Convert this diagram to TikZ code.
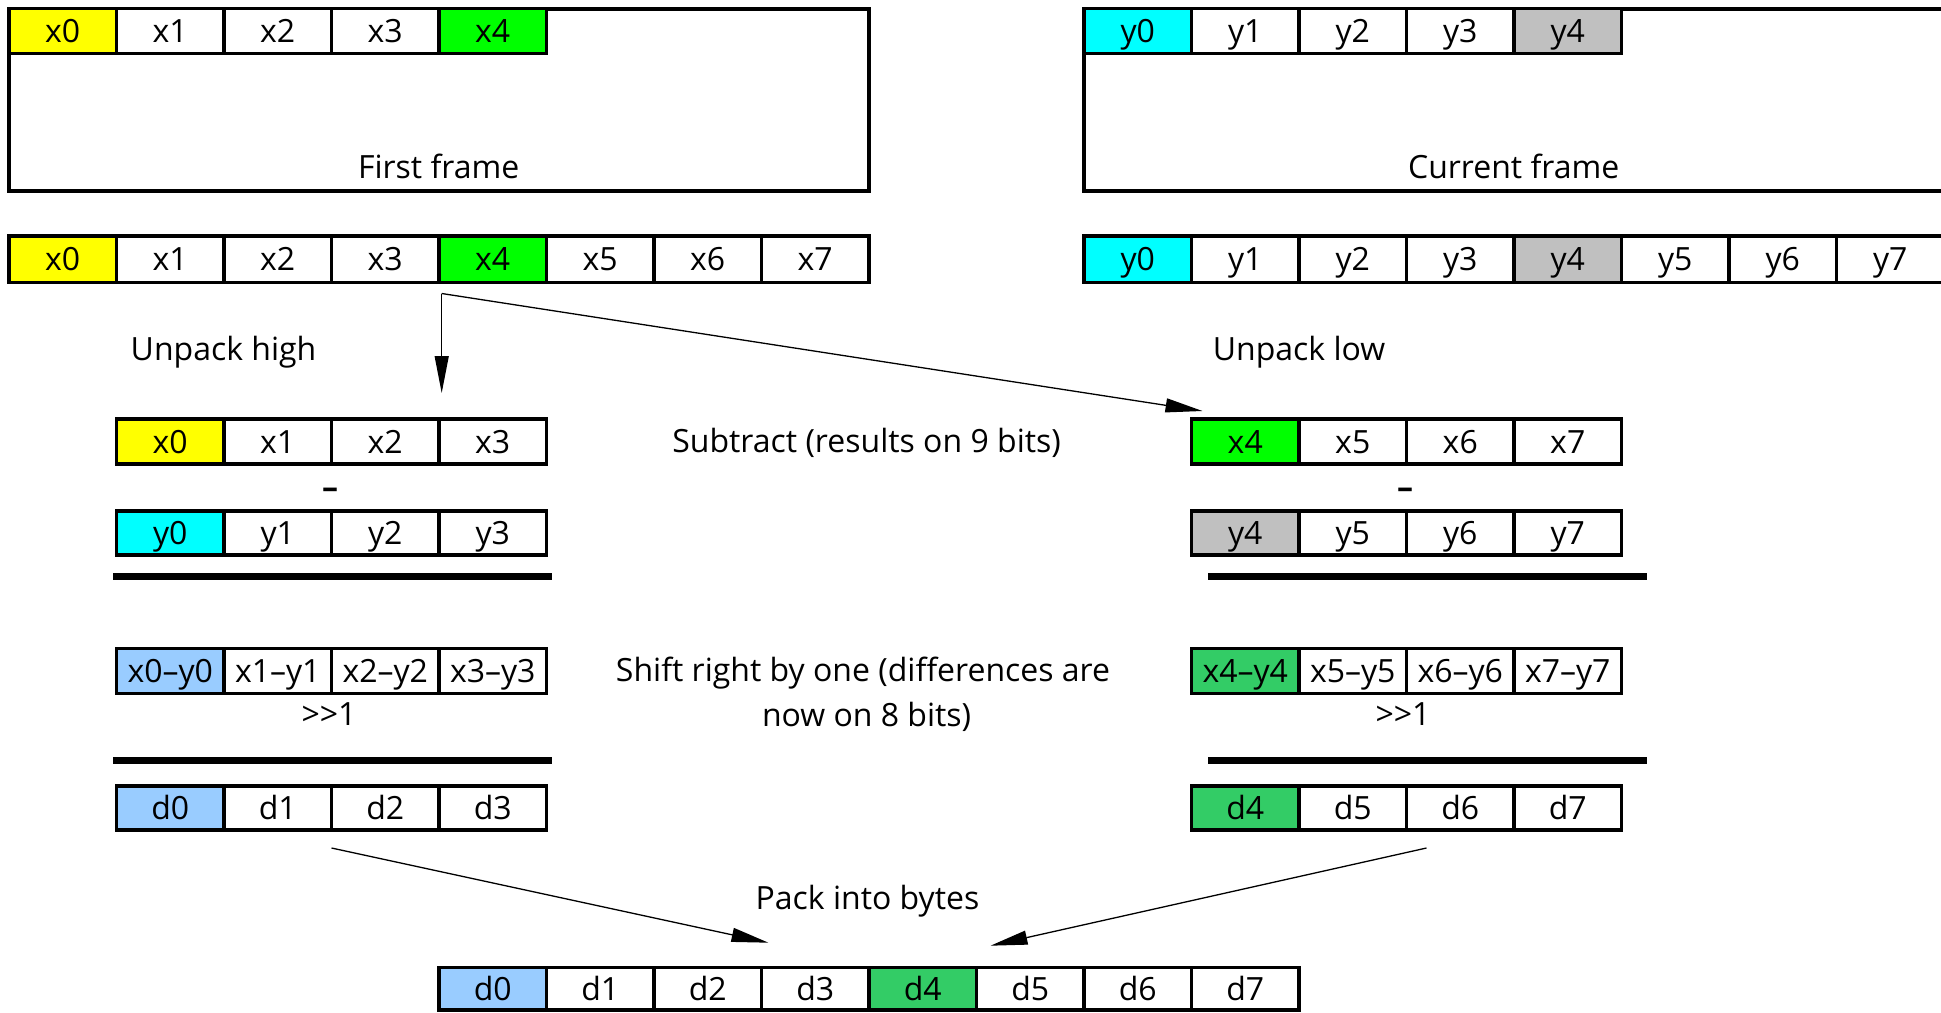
\documentclass[tikz,border=0pt]{standalone}
\usepackage{fontspec}
\setmainfont{Open Sans}
\usetikzlibrary{arrows.meta}
\definecolor{cyel}{RGB}{255,255,0}
\definecolor{cgrn}{RGB}{0,255,0}
\definecolor{ccyn}{RGB}{0,255,255}
\definecolor{cgry}{RGB}{192,192,192}
\definecolor{cblu}{RGB}{153,204,255}
\definecolor{cmgr}{RGB}{51,204,102}
\newcommand\cellrow[5][]{%
  \foreach \t/\c [count=\i from 0] in {#5}
    \node[cell,fill=\c,#1] (#2\i) at ({#3+\i*107.5},#4) {\t};}
\begin{document}
\begin{tikzpicture}[x=1pt,y=-1pt,
  cell/.style={draw=black, line width=3.3pt, minimum width=107.5pt, minimum height=45pt,
    inner sep=0pt, outer sep=0pt, anchor=north west, text height=23pt, text depth=0pt,
    font=\fontsize{32}{38}\selectfont},
  lbl/.style={inner sep=0pt, text height=23pt, text depth=0pt, font=\fontsize{32}{38}\selectfont},
  framebox/.style={draw=black, line width=4pt, inner sep=0pt, outer sep=0pt, anchor=north west},
  bar/.style={line width=7.3pt},
  conn/.style={line width=1.3pt, -{Triangle[length=37pt,width=14pt]}}
]
\useasboundingbox (0,0) rectangle (1941,1012);
\clip (0,0) rectangle (1941,1012);

% frames
\node[framebox, minimum width=859.5pt, minimum height=182pt] (ff) at (9,8.7) {};
\node[framebox, minimum width=859.5pt, minimum height=182pt] (cf) at (1084,8.7) {};
\node[lbl] (ffl) at (438.7,167) {First frame};
\node[lbl] (cfl) at (1513.7,167) {Current frame};

% top rows
\cellrow{fa}{9}{8.7}{x0/cyel,x1/white,x2/white,x3/white,x4/cgrn}
\cellrow{ca}{1084}{8.7}{y0/ccyn,y1/white,y2/white,y3/white,y4/cgry}
\cellrow[minimum height=46.5pt]{fb}{9}{236}{x0/cyel,x1/white,x2/white,x3/white,x4/cgrn,x5/white,x6/white,x7/white}
\cellrow[minimum height=46.5pt]{cb}{1084}{236}{y0/ccyn,y1/white,y2/white,y3/white,y4/cgry,y5/white,y6/white,y7/white}

\node[lbl] (uph) at (223.5,349) {Unpack high};
\node[lbl] (upl) at (1299,349) {Unpack low};

% left block
\cellrow{la}{116.5}{419}{x0/cyel,x1/white,x2/white,x3/white}
\cellrow[minimum height=44pt]{lb}{116.5}{511}{y0/ccyn,y1/white,y2/white,y3/white}
\cellrow{lc}{116.5}{648.3}{x0–y0/cblu,x1–y1/white,x2–y2/white,x3–y3/white}
\cellrow[minimum height=44pt]{ld}{116.5}{786}{d0/cblu,d1/white,d2/white,d3/white}
\node[lbl] (mL) at (330,487) {\textbf{–}};
\node[lbl] (shL) at (329,714) {>{}>1};
\draw[bar] (113.3,576.7) -- (551.7,576.7);
\draw[bar] (113.3,760.7) -- (551.7,760.7);

% right block
\cellrow{ra}{1191.5}{419}{x4/cgrn,x5/white,x6/white,x7/white}
\cellrow[minimum height=44pt]{rb}{1191.5}{511}{y4/cgry,y5/white,y6/white,y7/white}
\cellrow{rc}{1191.5}{648.3}{x4–y4/cmgr,x5–y5/white,x6–y6/white,x7–y7/white}
\cellrow[minimum height=44pt]{rd}{1191.5}{786}{d4/cmgr,d5/white,d6/white,d7/white}
\node[lbl] (mR) at (1405,487) {\textbf{–}};
\node[lbl] (shR) at (1403,714) {>{}>1};
\draw[bar] (1208.3,576.7) -- (1646.7,576.7);
\draw[bar] (1208.3,760.7) -- (1646.7,760.7);

% middle labels
\node[lbl] (sub) at (866.6,441) {Subtract (results on 9 bits)};
\node[lbl] (sh1) at (863,670) {Shift right by one (differences are};
\node[lbl] (sh2) at (866.6,715) {now on 8 bits)};
\node[lbl] (pack) at (867.5,898) {Pack into bytes};

% bottom row
\cellrow[minimum height=42.3pt]{bt}{439}{967.7}{d0/cblu,d1/white,d2/white,d3/white,d4/cmgr,d5/white,d6/white,d7/white}

% connectors
\coordinate (a0) at ([xshift=2.7pt,yshift=-11pt]fb4.south west);
\coordinate (a1) at ([xshift=2.7pt,yshift=26pt]la3.north west);
\coordinate (a2) at ([xshift=11pt,yshift=8pt]ra0.north west);
\coordinate (b1) at ([yshift=-18pt]ld1.south east);
\coordinate (b1t) at ([xshift=7pt,yshift=25pt]bt3.north west);
\coordinate (b2) at ([xshift=20pt,yshift=-18pt]rd2.south west);
\coordinate (b2t) at ([xshift=14pt,yshift=22pt]bt5.north west);
\draw[conn] (a0) -- (a1);
\draw[conn] (a0) -- (a2);
\draw[conn] (b1) -- (b1t);
\draw[conn] (b2) -- (b2t);
\end{tikzpicture}
\end{document}
